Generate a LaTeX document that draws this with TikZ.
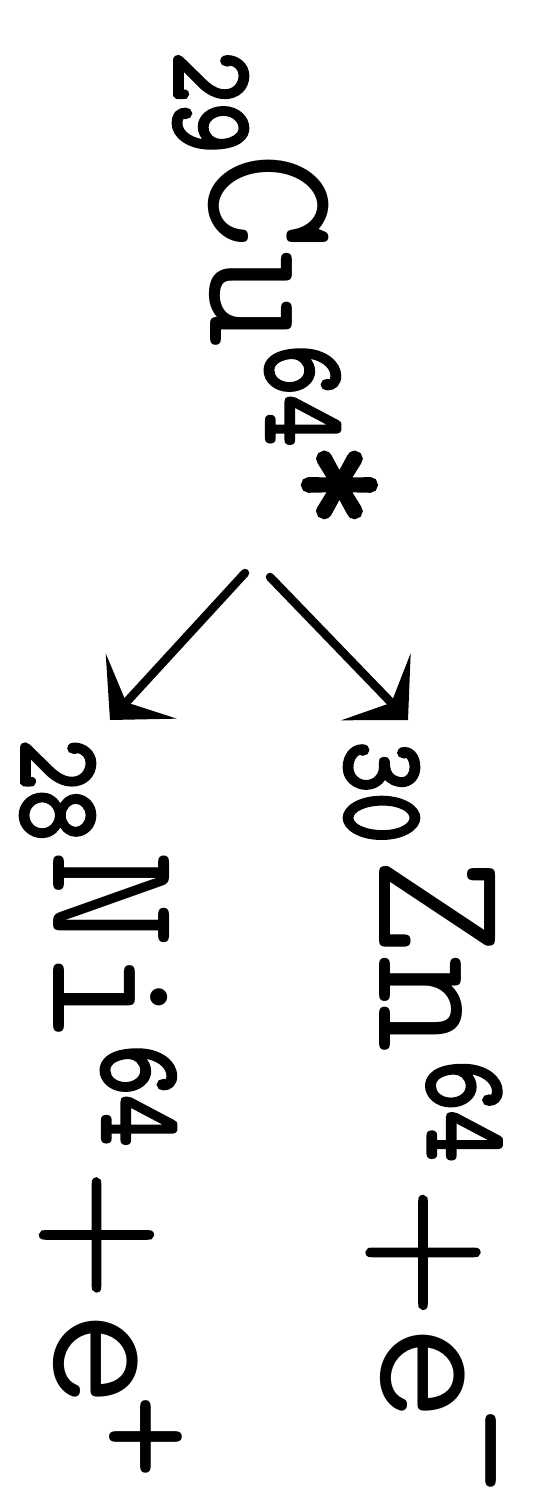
\documentclass[tikz,border=0pt]{standalone}
\usepackage{fontspec}
\usepackage{graphicx}
\newfontfamily\numfont[FakeBold=3.5]{Latin Modern Mono}
\newfontfamily\opfont[FakeBold=2]{Latin Modern Roman}
\usetikzlibrary{arrows.meta}
\tikzset{
  elem/.style={rotate=-90, inner sep=0pt, outer sep=0pt, anchor=center, font=\fontsize{190}{190}\selectfont\ttfamily},
  nucnum/.style={rotate=-90, inner sep=0pt, outer sep=0pt, anchor=center, font=\fontsize{116}{116}\selectfont\numfont},
  bigop/.style={rotate=-90, inner sep=0pt, outer sep=0pt, anchor=center, font=\fontsize{178}{178}\selectfont\opfont},
  supop/.style={rotate=-90, inner sep=0pt, outer sep=0pt, anchor=center, font=\fontsize{165}{165}\selectfont\ttfamily},
  starop/.style={rotate=-90, inner sep=0pt, outer sep=0pt, anchor=center, font=\fontsize{165}{165}\selectfont\numfont},
  decay/.style={line width=8.5pt, line cap=round, -{Stealth[length=46pt, width=96pt, inset=22pt]}}
}
\begin{document}
\begin{tikzpicture}[x=1pt, y=-1pt]
\useasboundingbox (0,0) rectangle (550,1497);
% Cu
\node[nucnum] (cuz) at (210.5,102.5) {\scalebox{0.85}[1]{29}};
\node[elem]   (cu)  at (269,250) {Cu};
\node[nucnum] (cua) at (302.5,395.5) {\scalebox{0.85}[1]{64}};
\node[starop] (cus) at (332,485) {*};
% Ni
\node[nucnum] (niz) at (57.5,790) {\scalebox{0.85}[1]{28}};
\node[elem]   (ni)  at (112,948.5) {Ni};
\node[nucnum] (nia) at (138.5,1095.5) {\scalebox{0.85}[1]{64}};
\node[bigop]  (nip) at (96.5,1235) {+};
\node[elem]   (nie) at (96,1359) {e};
\node[supop]  (nis) at (138.5,1436.5) {+};
% Zn
\node[nucnum] (znz) at (381.5,792.5) {\scalebox{0.85}[1]{30}};
\node[elem]   (zn)  at (437.5,955) {Zn};
\node[nucnum] (zna) at (464,1111) {\scalebox{0.85}[1]{64}};
\node[bigop]  (znp) at (423,1252.5) {+};
\node[elem]   (zne) at (422.5,1373.5) {e};
\node[supop]  (zns) at (468,1451) {−};
% arrows
\coordinate (a1) at (245,573);
\coordinate (b1) at (110,720);
\coordinate (a2) at (270,577);
\coordinate (b2) at (408,720);
\draw[decay] (a1) -- (b1);
\draw[decay] (a2) -- (b2);
\end{tikzpicture}
\end{document}
